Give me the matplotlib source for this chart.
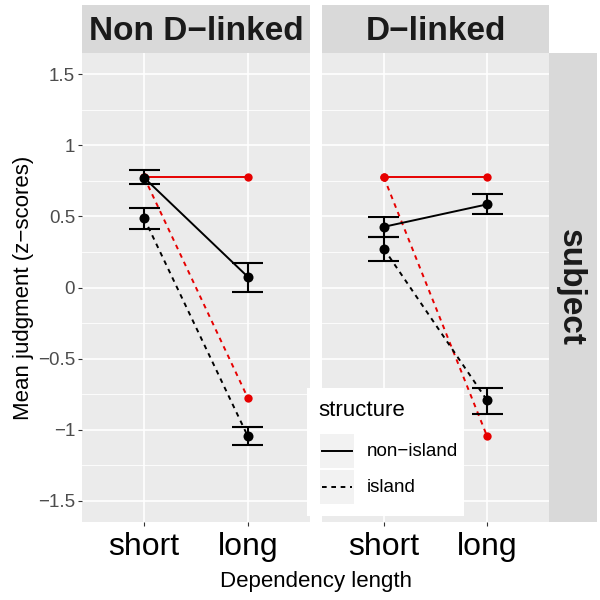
import matplotlib.pyplot as plt
from matplotlib.patches import Rectangle

plt.rcParams['font.family'] = ['Liberation Sans', 'DejaVu Sans']

# data
panels = ["Non D\u2212linked", "D\u2212linked"]
lengths = ["short", "long"]
structures = ["non\u2212island", "island"]

# observed means with error bar ends, one row per panel: [short, long]
nonisland_mean = [[0.772, 0.075], [0.427, 0.585]]
nonisland_lo = [[0.725, -0.033], [0.354, 0.514]]
nonisland_hi = [[0.824, 0.174], [0.495, 0.655]]
island_mean = [[0.486, -1.047], [0.272, -0.794]]
island_lo = [[0.415, -1.105], [0.186, -0.887]]
island_hi = [[0.556, -0.980], [0.354, -0.706]]

# red (predicted) values
pred_nonisland = [[0.775, 0.775], [0.775, 0.775]]
pred_island = [[0.775, -0.777], [0.775, -1.047]]

yticks = [-1.5, -1, -0.5, 0, 0.5, 1, 1.5]
yticklabels = ["\u22121.5", "\u22121", "\u22120.5", "0", "0.5", "1", "1.5"]

red = "#E60000"
dash = (0, (2.4, 2.4))
grey_panel = "#EBEBEB"
grey_strip = "#D9D9D9"

fig = plt.figure(figsize=(6, 6), dpi=100)
W = H = 600.0


def px(x0, y0, x1, y1):
    return [x0 / W, 1 - y1 / H, (x1 - x0) / W, (y1 - y0) / H]


panel_px = [(82, 53, 310, 522), (322, 53, 549, 522)]
xs = [1, 2]

for i, name in enumerate(panels):
    x0, y0, x1, y1 = panel_px[i]
    ax = fig.add_axes(px(x0, y0, x1, y1))
    ax.set_facecolor(grey_panel)
    for s in ax.spines.values():
        s.set_visible(False)
    ax.set_xlim(0.4, 2.6)
    ax.set_ylim(-1.65, 1.65)
    for y in [-1.25, -0.75, -0.25, 0.25, 0.75, 1.25]:
        ax.axhline(y, color="white", lw=0.6, zorder=0)
    for y in yticks:
        ax.axhline(y, color="white", lw=1.2, zorder=0)
    for x in xs:
        ax.axvline(x, color="white", lw=1.2, zorder=0)
    ax.set_xticks(xs)
    ax.set_xticklabels(lengths, fontsize=23)
    ax.set_yticks(yticks)
    ax.tick_params(axis="both", color="#333333", length=3, width=0.8, pad=2)
    ax.tick_params(axis="x", pad=4)
    if i == 0:
        ax.set_yticklabels(yticklabels, fontsize=13.5, color="#4D4D4D")
    else:
        ax.set_yticklabels([])
        ax.tick_params(axis="y", length=0)

    # predicted (red)
    ax.plot(xs, pred_nonisland[i], color=red, lw=1.4, zorder=2)
    ax.plot(xs, pred_island[i], color=red, lw=1.4, ls=dash, zorder=2)
    ax.scatter(xs, pred_nonisland[i], color=red, s=36, zorder=3, lw=0)
    ax.scatter(xs, pred_island[i], color=red, s=36, zorder=3, lw=0)

    # observed (black)
    ax.plot(xs, nonisland_mean[i], color="black", lw=1.4, zorder=4)
    ax.plot(xs, island_mean[i], color="black", lw=1.4, ls=dash, zorder=4)
    for mean, lo, hi in [(nonisland_mean[i], nonisland_lo[i], nonisland_hi[i]),
                         (island_mean[i], island_lo[i], island_hi[i])]:
        ax.vlines(xs, lo, hi, color="black", lw=1.5, zorder=5)
        ax.hlines(lo, [x - 0.15 for x in xs], [x + 0.15 for x in xs], color="black", lw=1.5, zorder=5)
        ax.hlines(hi, [x - 0.15 for x in xs], [x + 0.15 for x in xs], color="black", lw=1.5, zorder=5)
        ax.scatter(xs, mean, color="black", s=52, zorder=6, lw=0)

    # top strip
    sx = fig.add_axes(px(x0, 5, x1, 53))
    sx.set_facecolor(grey_strip)
    sx.set_xticks([])
    sx.set_yticks([])
    for s in sx.spines.values():
        s.set_visible(False)
    sx.text(0.5, 0.45, name, ha="center", va="center", fontsize=24,
            fontweight="bold", color="#1A1A1A", transform=sx.transAxes)

# right strip
rx = fig.add_axes(px(549, 53, 597, 522))
rx.set_facecolor(grey_strip)
rx.set_xticks([])
rx.set_yticks([])
for s in rx.spines.values():
    s.set_visible(False)
rx.text(0.45, 0.5, "subject", ha="center", va="center", rotation=-90,
        fontsize=24, fontweight="bold", color="#1A1A1A", transform=rx.transAxes)

fig.text(316 / W, 1 - 582 / H, "Dependency length", ha="center", va="center", fontsize=16)
fig.text(24 / W, 1 - 288 / H, "Mean judgment (z\u2212scores)", ha="center", va="center",
         rotation=90, fontsize=16)

# legend drawn by hand to get the ggplot look
lg = fig.add_axes([0, 0, 1, 1], zorder=10)
lg.set_xlim(0, W)
lg.set_ylim(H, 0)
lg.axis("off")
lg.add_patch(Rectangle((307, 388), 157, 128, facecolor="white", edgecolor="none"))
lg.text(318, 411, "structure", ha="left", va="center", fontsize=16)
for k, (lab, style) in enumerate(zip(structures, ["-", dash])):
    ky = 434 + 36 * k
    lg.add_patch(Rectangle((320, ky), 34, 34, facecolor="#F2F2F2", edgecolor="none"))
    lg.plot([322, 352], [ky + 17, ky + 17], color="black", lw=1.4, ls=style)
    lg.text(367, ky + 17, lab, ha="left", va="center", fontsize=13.5)

fig.savefig("out.png", dpi=100)
